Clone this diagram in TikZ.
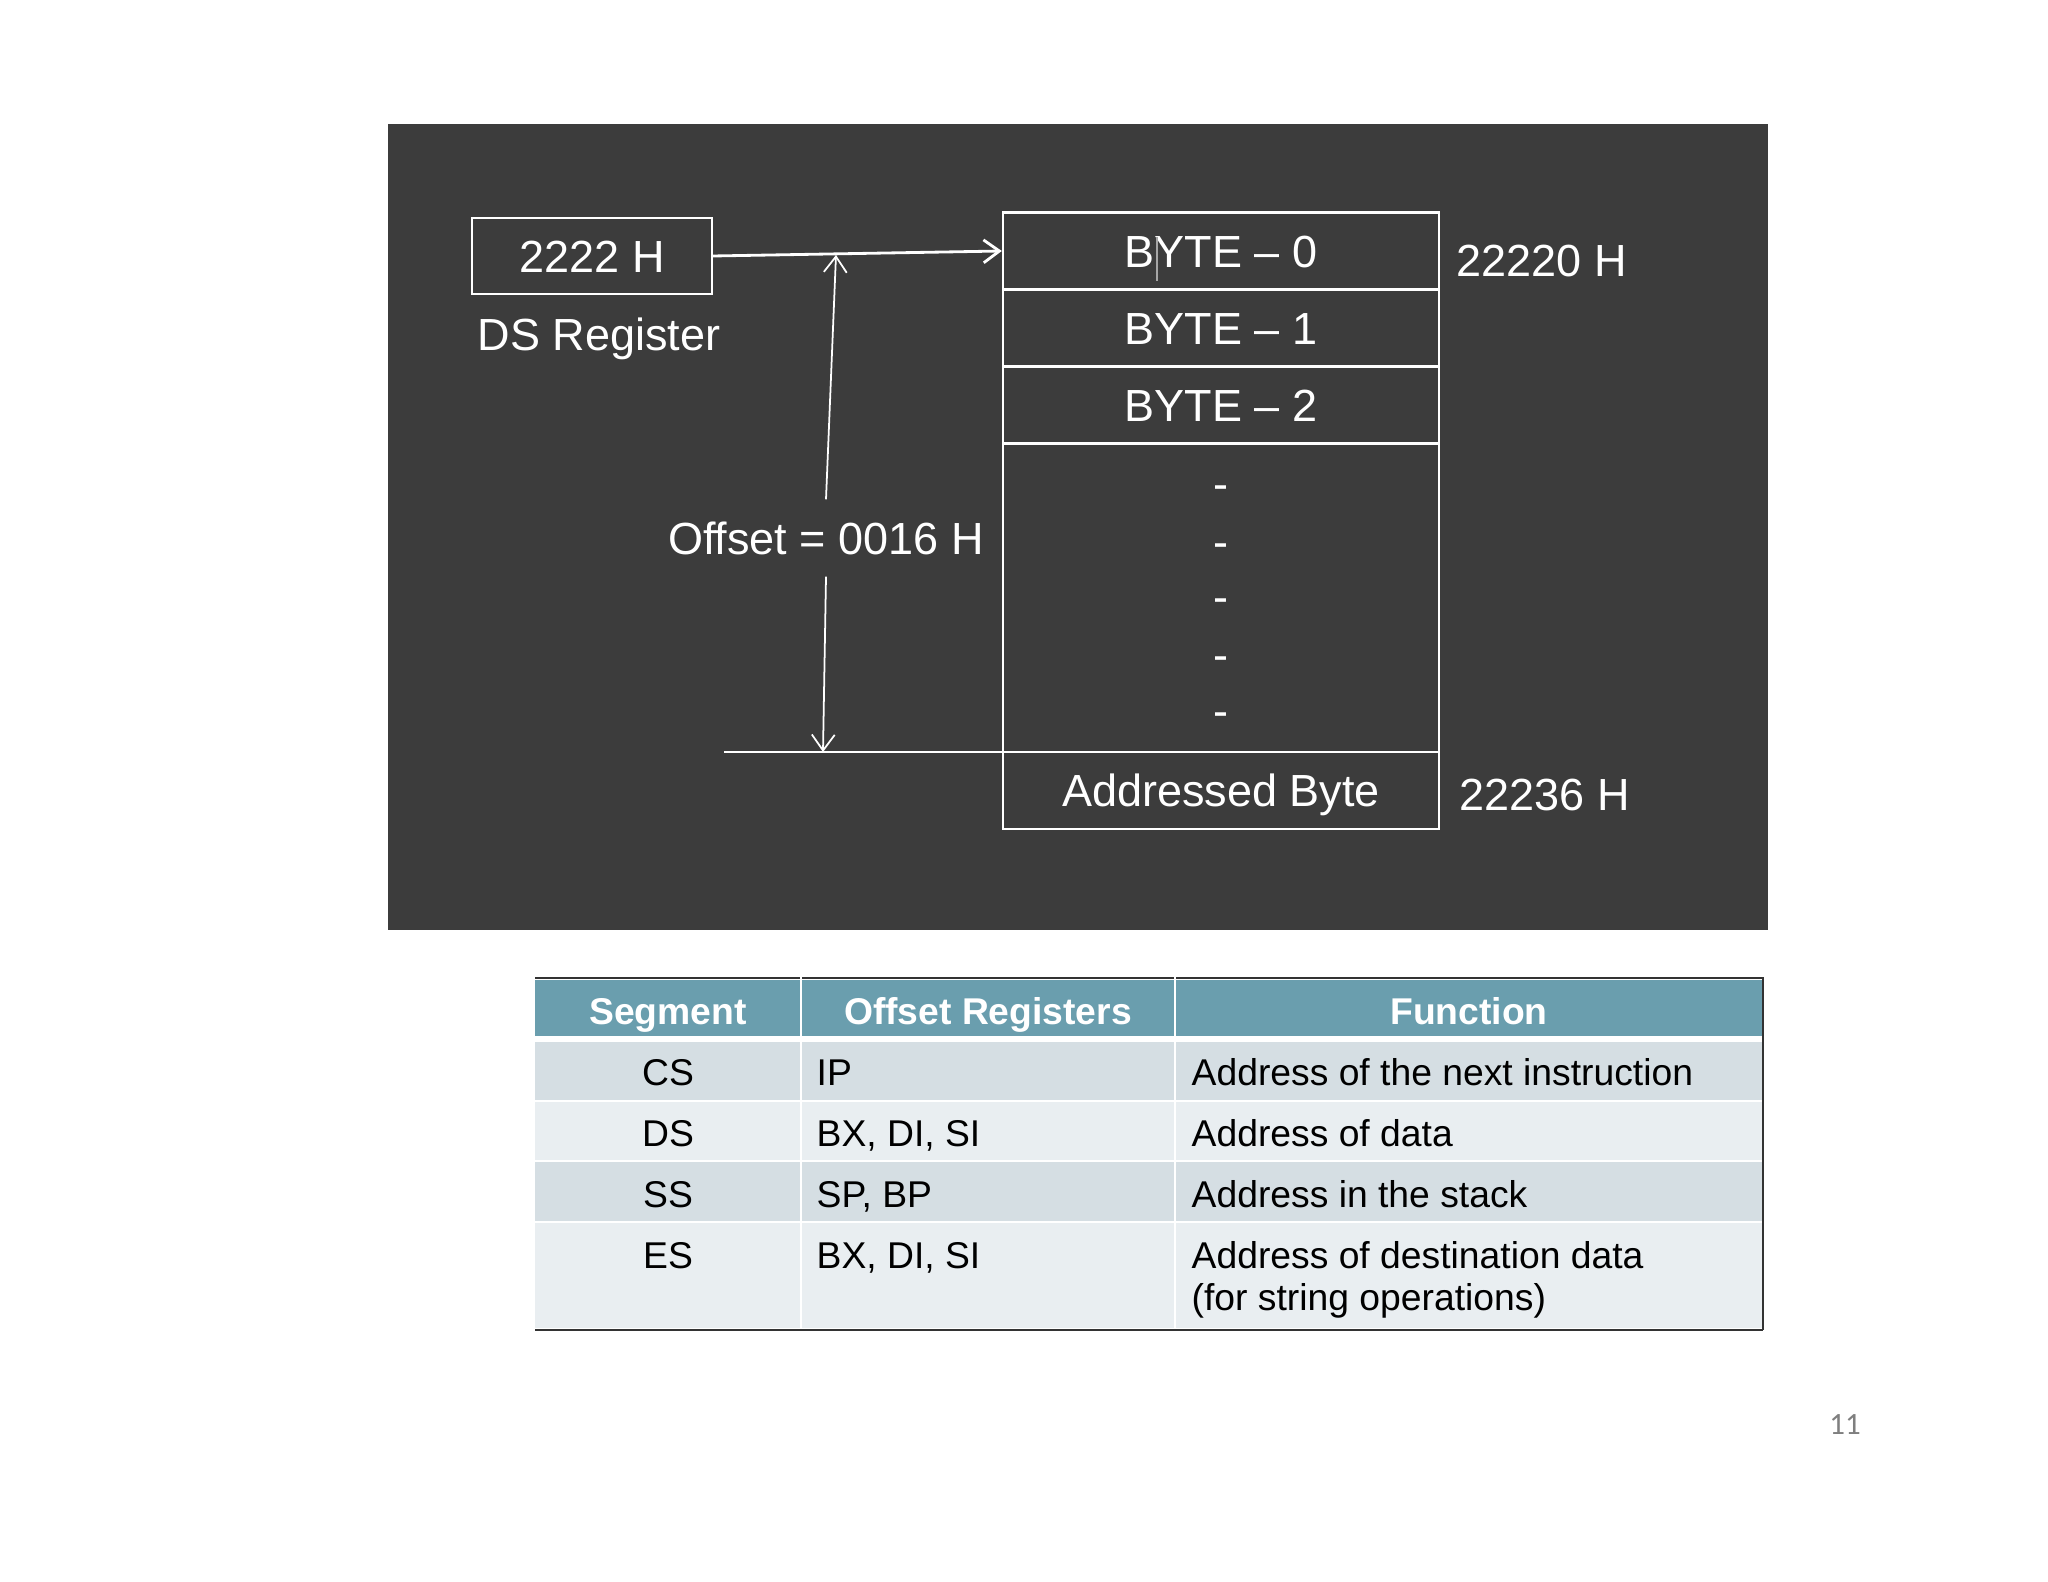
\documentclass[tikz,border=0pt]{standalone}
\usepackage{fontspec}
\setmainfont{Liberation Sans}
\newfontfamily\slidefont{Carlito}
\usetikzlibrary{arrows.meta}
\definecolor{panel}{HTML}{3C3C3C}
\definecolor{thead}{HTML}{6A9EAE}
\definecolor{rowa}{HTML}{D5DEE3}
\definecolor{rowb}{HTML}{E9EEF1}
\definecolor{rule}{HTML}{333333}
\definecolor{pagenum}{HTML}{7F7F7F}
\tikzset{
  memtext/.style={font=\fontsize{12.8}{15}\selectfont,text=white,text height=9.2pt,text depth=0pt,inner sep=0pt},
  memcell/.style={memtext,draw=white,line width=0.6pt,minimum width=4.36cm,minimum height=0.77cm},
  tabtext/.style={font=\fontsize{10.6}{13}\selectfont,text=black,text height=7.6pt,text depth=0pt,inner sep=0pt},
  tabhead/.style={tabtext,font=\fontsize{10.6}{13}\selectfont\bfseries,text=white},
  ptr/.style={white,-{Straight Barb[length=4.5pt,width=6.5pt]}},
}
\begin{document}
\begin{tikzpicture}[x=0.01cm,y=-0.01cm]
\fill[white] (0,0) rectangle (2048,1582);
\useasboundingbox (0,0) rectangle (2048,1582);
% dark panel
\fill[panel] (388,124) rectangle (1768,930);
\node[memtext,draw=white,line width=0.6pt,minimum width=2.39cm,minimum height=0.76cm] (ds) at (592,256) {2222 H};
\node[memtext] (dsname) at (599,334) {DS Register};
\foreach \t/\y [count=\i from 0] in {BYTE – 0/251,BYTE – 1/328,BYTE – 2/405}
  \node[memcell] (b\i) at (1221,\y) {\t};
\node[memcell,minimum height=3.085cm] (gap) at (1221,597.75) {};
\foreach \y in {486,544,599,657,713}
  \node[memtext] (d\y) at (1221,\y-3) {-};
\node[memcell] (ab) at (1221,790.5) {Addressed Byte};
\node[memtext,anchor=west] (lo) at (1456,260) {22220 H};
\node[memtext,anchor=west] (hi) at (1459,794) {22236 H};
\draw[gray!70,line width=0.3pt] (1157,237) -- (1157,281);
% offset pointer
\draw[ptr,line width=0.8pt] (ds.east) -- (b0.west);
\node[memtext,minimum height=0.76cm] (off) at (826,538) {Offset = 0016 H};
\coordinate (up) at (836,255);
\coordinate (down) at (823,752);
\coordinate (mark) at (724,752);
\draw[ptr,line width=0.5pt] (off.north) -- (up);
\draw[ptr,line width=0.5pt] (off.south) -- (down);
\draw[white,line width=0.8pt] (mark) -- (mark -| ab.west);
% table
\fill[thead] (535,980) rectangle (1763,1036);
\foreach \a/\b/\c in {1042/1100/rowa,1102/1160/rowb,1162/1221/rowa,1223/1328/rowb}
  \fill[\c] (535,\a) rectangle (1763,\b);
\draw[rule,line width=0.8pt] (535,978) -- (1763,978);
\foreach \x in {801,1175} \draw[white,line width=0.8pt] (\x,975) -- (\x,1328);
\draw[rule,line width=0.8pt] (535,1330) -- (1763,1330);
\draw[rule,line width=0.6pt] (1763,977) -- (1763,1330);
\foreach \t/\x [count=\i] in {Segment/668,Offset Registers/988,Function/1469}
  \node[tabhead] (h\i) at (\x,1011) {\t};
\foreach \s/\o/\f/\y [count=\i] in {CS/IP/Address of the next instruction/1072,
    DS/{BX, DI, SI}/Address of data/1133,SS/{SP, BP}/Address in the stack/1194,
    ES/{BX, DI, SI}/Address of destination data/1255}{
  \node[tabtext] (s\i) at (668,\y) {\s};
  \node[tabtext,anchor=west] (o\i) at (816,\y) {\o};
  \node[tabtext,anchor=west] (f\i) at (1191,\y) {\f};}
\node[tabtext,anchor=west] (f5) at (1191,1297) {(for string operations)};
\node[font=\slidefont\fontsize{8.8}{10}\selectfont,text=pagenum] (pg) at (1845,1425) {11};
\end{tikzpicture}
\end{document}
